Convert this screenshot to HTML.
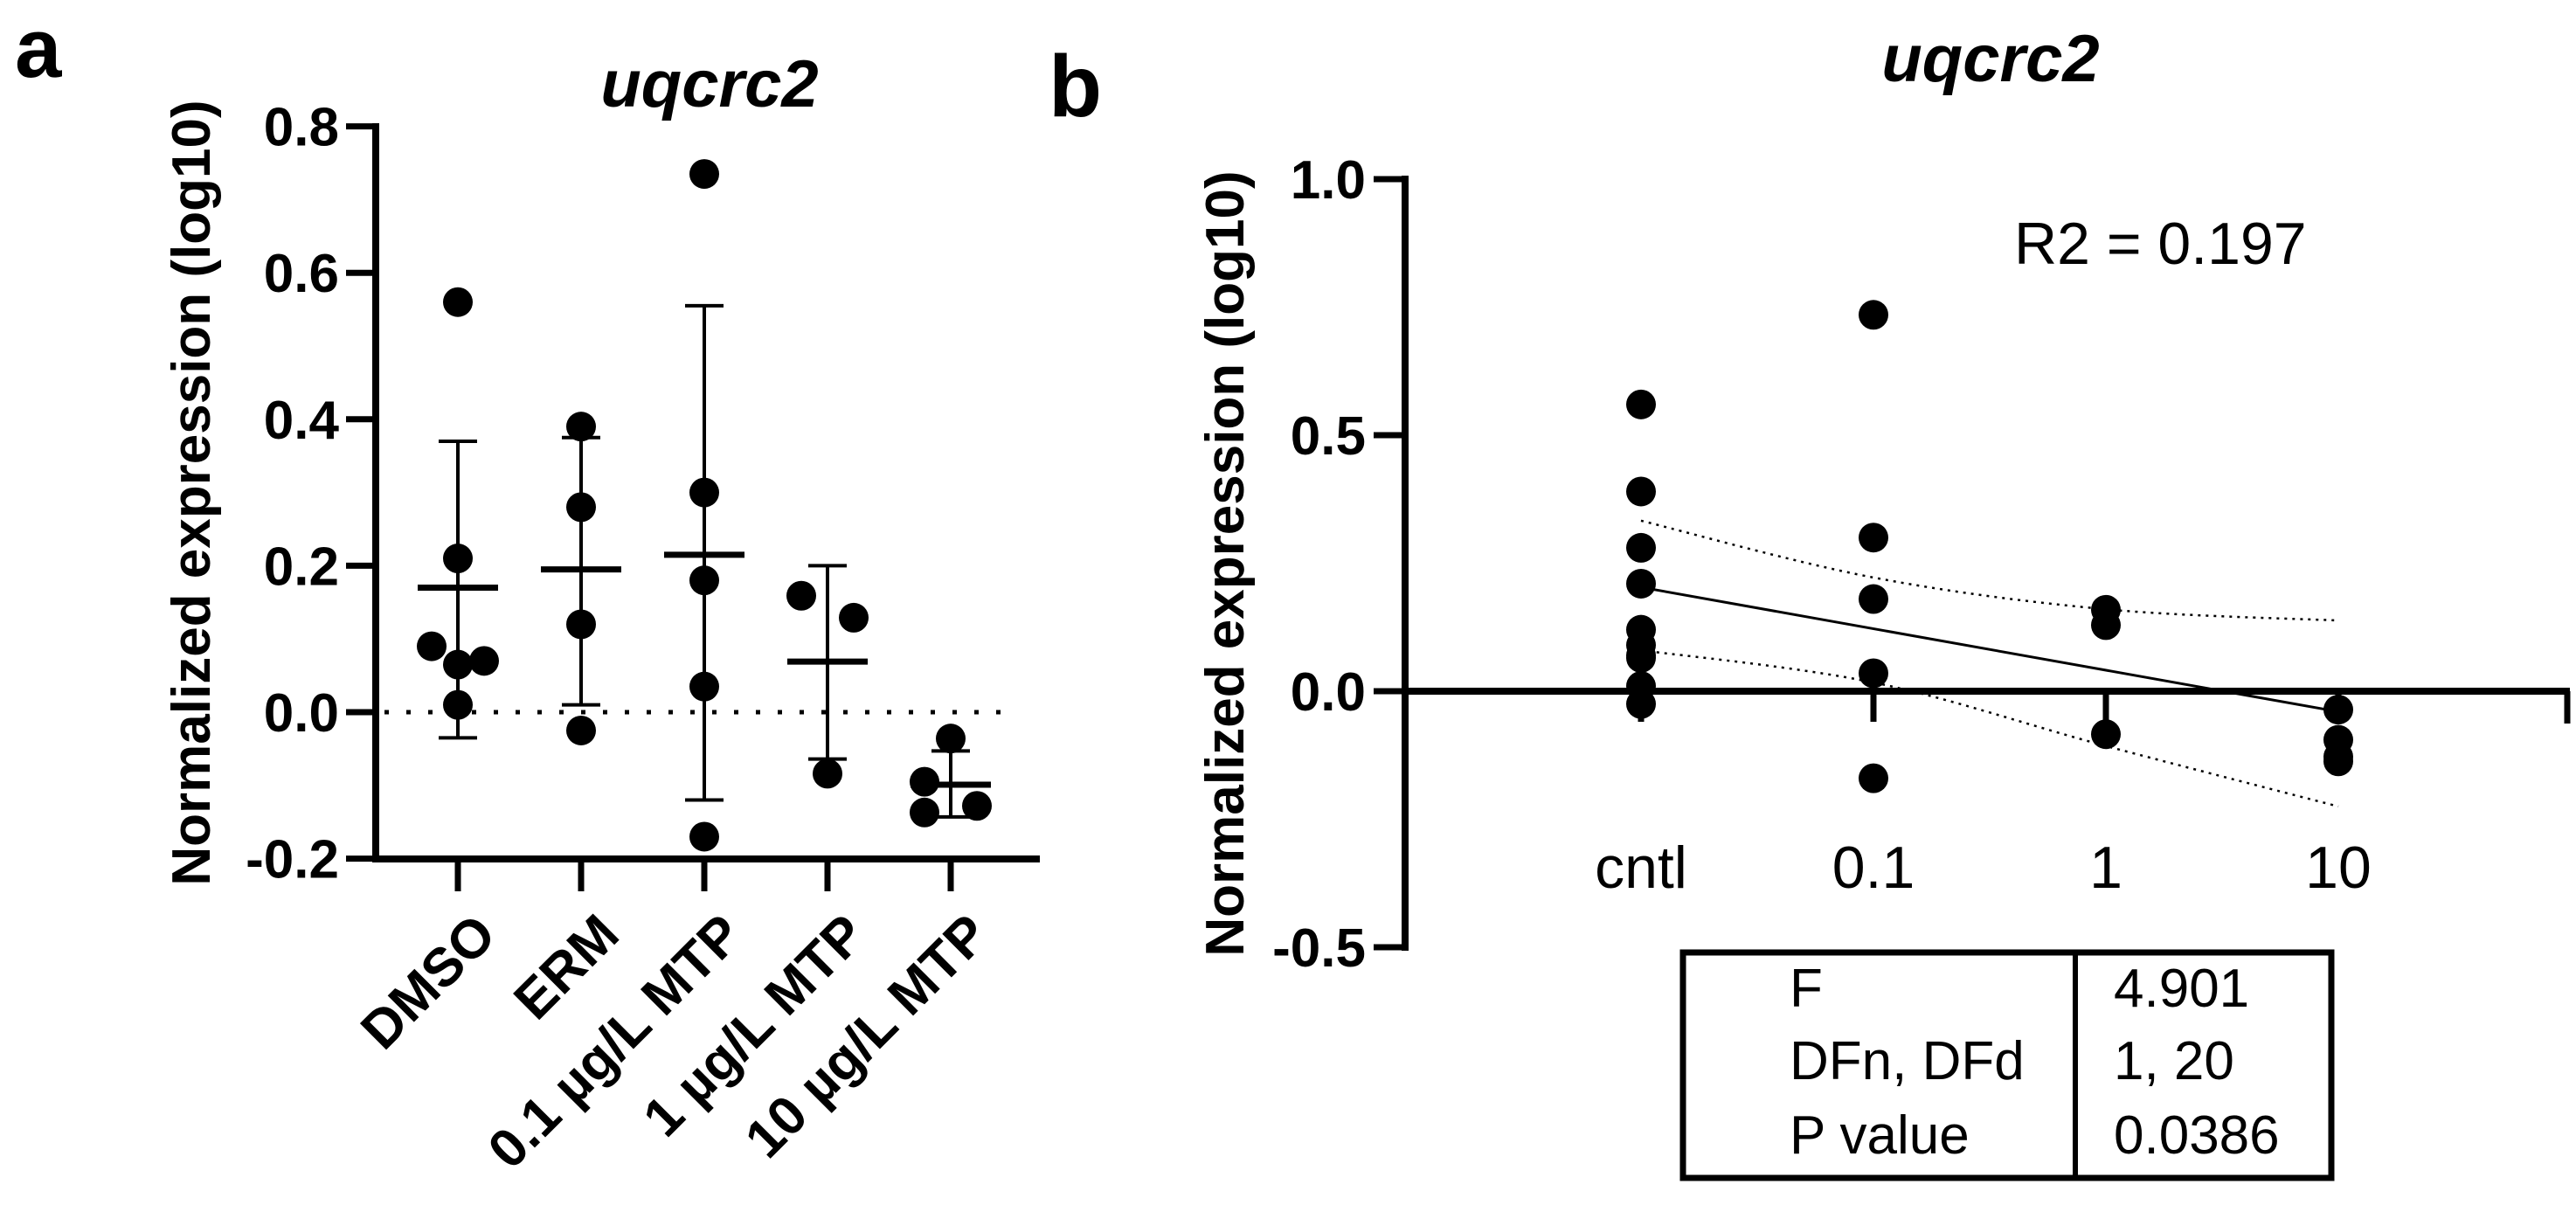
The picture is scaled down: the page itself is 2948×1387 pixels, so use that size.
<!DOCTYPE html>
<html><head><meta charset="utf-8"><style>
html,body{margin:0;padding:0;background:#fff;}
svg{display:block;font-family:"Liberation Sans",Arial,sans-serif;}
</style></head><body>
<svg id="fig" width="2948" height="1387" viewBox="0 0 2948 1387" xmlns="http://www.w3.org/2000/svg">
<text x="17" y="88" font-size="96" font-weight="bold">a</text>
<text x="1200" y="133" font-size="100" font-weight="bold">b</text>
<text x="812" y="122" font-size="76" font-weight="bold" font-style="italic" text-anchor="middle">uqcrc2</text>
<text x="2278" y="93" font-size="76" font-weight="bold" font-style="italic" text-anchor="middle">uqcrc2</text>
<text transform="translate(240,564) rotate(-90)" font-size="62" font-weight="bold" text-anchor="middle">Normalized expression (log10)</text>
<text transform="translate(1423,645) rotate(-90)" font-size="62" font-weight="bold" text-anchor="middle">Normalized expression (log10)</text>
<text x="2305" y="302" font-size="68">R2 = 0.197</text>
<g>
<rect x="1926" y="1090" width="742" height="258" fill="none" stroke="#000" stroke-width="7"/>
<line x1="2375" y1="1090" x2="2375" y2="1348" stroke="#000" stroke-width="6"/>
<g font-size="62">
<text x="2048" y="1152">F</text>
<text x="2048" y="1235">DFn, DFd</text>
<text x="2048" y="1320">P value</text>
<text x="2419" y="1152">4.901</text>
<text x="2419" y="1235">1, 20</text>
<text x="2419" y="1320">0.0386</text>
</g></g>
<g id="pa"></g>
<g id="pb"></g>
</svg>
<script>
// Panel A data
const aCategories = ["DMSO", "ERM", "0.1 µg/L MTP", "1 µg/L MTP", "10 µg/L MTP"];
const aPoints = [
  [0.56, 0.21, 0.09, 0.07, 0.065, 0.01],
  [0.39, 0.28, 0.12, -0.025],
  [0.735, 0.30, 0.18, 0.035, -0.17],
  [0.159, 0.129, -0.084],
  [-0.036, -0.095, -0.137, -0.128]
];
const aJitter = [
  [0, 0, -1, 1, 0, 0],
  [0, 0, 0, 0],
  [0, 0, 0, 0, 0],
  [-1, 1, 0],
  [0, -1, -1, 1]
];
const aMeans = [0.17, 0.195, 0.215, 0.069, -0.099];
const aErrHi = [0.37, 0.375, 0.555, 0.2, -0.053];
const aErrLo = [-0.035, 0.01, -0.12, -0.064, -0.143];
const aTicks = [-0.2, 0.0, 0.2, 0.4, 0.6, 0.8];
const aTickLabels = ["-0.2", "0.0", "0.2", "0.4", "0.6", "0.8"];

// Panel B data
const bCategories = ["cntl", "0.1", "1", "10"];
const bPoints = [
  [0.56, 0.39, 0.28, 0.21, 0.12, 0.09, 0.07, 0.065, 0.01, -0.025],
  [0.735, 0.30, 0.18, 0.035, -0.17],
  [0.159, 0.129, -0.084],
  [-0.036, -0.095, -0.137, -0.128]
];
const bFit = [0.203, -0.04];
const bUpper = [0.333, 0.222, 0.16, 0.138];
const bLower = [0.08, 0.017, -0.107, -0.225];
const bTicks = [-0.5, 0.0, 0.5, 1.0];
const bTickLabels = ["-0.5", "0.0", "0.5", "1.0"];

const NS = "http://www.w3.org/2000/svg";
function mk(parent, tag, attrs) {
  const e = document.createElementNS(NS, tag);
  for (const k in attrs) e.setAttribute(k, attrs[k]);
  parent.appendChild(e);
  return e;
}

// ---- Panel A ----
const ya = v => 815 - 838 * v;
const xa = i => 524 + 141 * i;
const pa = document.getElementById("pa");
let e;
e = mk(pa, "line", {x1: 430, y1: 141, x2: 430, y2: 986, stroke: "#000", "stroke-width": 8});


e = mk(pa, "line", {x1: 426, y1: 983, x2: 1190, y2: 983, stroke: "#000", "stroke-width": 8});


aTicks.forEach((t, i) => {
  const y = ya(t);
  e = mk(pa, "line", {x1: 396, y1: y, x2: 432, y2: y, stroke: "#000", "stroke-width": 7});
  
  
  e = mk(pa, "text", {x: 388, y: y + 22, "font-size": 62, "font-weight": "bold", "text-anchor": "end"});
  e.textContent = aTickLabels[i];
  
  
});
e = mk(pa, "line", {x1: 440, y1: ya(0), x2: 1165, y2: ya(0), stroke: "#000", "stroke-width": 5, "stroke-dasharray": "5 20"});


aCategories.forEach((c, i) => {
  const x = xa(i);
  e = mk(pa, "line", {x1: x, y1: 983, x2: x, y2: 1020, stroke: "#000", "stroke-width": 7});
  
  
  e = mk(pa, "text", {transform: `translate(${x + 16},1042) rotate(-45)`, "font-size": 62, "font-weight": "bold", "text-anchor": "end", dy: "0.7em"});
  e.textContent = c;
  
  
  aPoints[i].forEach((v, j) => {
    e = mk(pa, "circle", {cx: x + 30 * aJitter[i][j], cy: ya(v), r: 17, fill: "#000"});
    
    
  });
  e = mk(pa, "line", {x1: x, y1: ya(aErrHi[i]), x2: x, y2: ya(aErrLo[i]), stroke: "#000", "stroke-width": 4});
  
  
  [aErrHi[i], aErrLo[i]].forEach(v => {
    e = mk(pa, "line", {x1: x - 22, y1: ya(v), x2: x + 22, y2: ya(v), stroke: "#000", "stroke-width": 4});
    
    
  });
  e = mk(pa, "line", {x1: x - 46, y1: ya(aMeans[i]), x2: x + 46, y2: ya(aMeans[i]), stroke: "#000", "stroke-width": 7});
  
  
});

// ---- Panel B ----
const yb = v => 791 - 586 * v;
const xb = i => 1878 + 266 * i;
const pb = document.getElementById("pb");
e = mk(pb, "line", {x1: 1608, y1: 201, x2: 1608, y2: 1088, stroke: "#000", "stroke-width": 8});


e = mk(pb, "line", {x1: 1604, y1: 791, x2: 2941, y2: 791, stroke: "#000", "stroke-width": 8});


e = mk(pb, "line", {x1: 2938, y1: 791, x2: 2938, y2: 828, stroke: "#000", "stroke-width": 7});


bTicks.forEach((t, i) => {
  const y = yb(t);
  e = mk(pb, "line", {x1: 1572, y1: y, x2: 1610, y2: y, stroke: "#000", "stroke-width": 7});
  
  
  e = mk(pb, "text", {x: 1563, y: y + 22, "font-size": 62, "font-weight": "bold", "text-anchor": "end"});
  e.textContent = bTickLabels[i];
  
  
});
bCategories.forEach((c, i) => {
  const x = xb(i);
  e = mk(pb, "line", {x1: x, y1: 791, x2: x, y2: 826, stroke: "#000", "stroke-width": 7});
  
  
  e = mk(pb, "text", {x: x, y: 1016, "font-size": 68, "text-anchor": "middle"});
  e.textContent = c;
  
  
  bPoints[i].forEach(v => {
    e = mk(pb, "circle", {cx: x, cy: yb(v), r: 17, fill: "#000"});
    
    
  });
});
e = mk(pb, "line", {x1: xb(0), y1: yb(bFit[0]), x2: xb(3), y2: yb(bFit[1]), stroke: "#000", "stroke-width": 3});


function smoothPath(vals) {
  const pts = vals.map((v, i) => [xb(i), yb(v)]);
  let d = `M${pts[0][0]},${pts[0][1]}`;
  for (let i = 0; i < pts.length - 1; i++) {
    const p0 = pts[Math.max(0, i - 1)], p1 = pts[i], p2 = pts[i + 1], p3 = pts[Math.min(pts.length - 1, i + 2)];
    const c1 = [p1[0] + (p2[0] - p0[0]) / 6, p1[1] + (p2[1] - p0[1]) / 6];
    const c2 = [p2[0] - (p3[0] - p1[0]) / 6, p2[1] - (p3[1] - p1[1]) / 6];
    d += ` C${c1[0]},${c1[1]} ${c2[0]},${c2[1]} ${p2[0]},${p2[1]}`;
  }
  return d;
}
e = mk(pb, "path", {d: smoothPath(bUpper), fill: "none", stroke: "#000", "stroke-width": 2.5, "stroke-dasharray": "3 6"});


e = mk(pb, "path", {d: smoothPath(bLower), fill: "none", stroke: "#000", "stroke-width": 2.5, "stroke-dasharray": "3 6"});


</script>
</body></html>
